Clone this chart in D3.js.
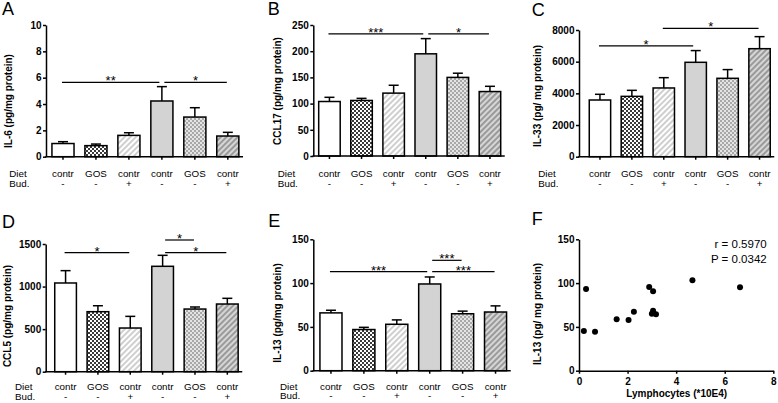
<!DOCTYPE html>
<html lang="en">
<head>
<meta charset="UTF-8">
<title>Cytokines per group</title>
<script src="https://d3js.org/d3.v7.min.js"></script>
<style>
  body { margin: 0; background: #fff; }
  svg { display: block; font-family: "Liberation Sans", Arial, sans-serif; }
  .axis path, .axis line { stroke: #000; stroke-width: 1.5; }
  .axis text { font-size: 10px; font-weight: bold; fill: #000; font-family: "Liberation Sans", Arial, sans-serif; }
  .cat { font-size: 9.8px; fill: #000; }
  .ytitle { font-size: 10px; font-weight: bold; }
  .letter { font-size: 18px; }
</style>
</head>
<body>
<div id="chart"></div>
<script>
// groups on the x axis
const diet = ["contr", "GOS", "contr", "contr", "GOS", "contr"];
const bud = ["-", "-", "+", "-", "-", "+"];

// mean and SEM per group
const il6Mean = [1.0, 0.84, 1.62, 4.23, 3.01, 1.57];
const il6Err = [0.14, 0.12, 0.2, 1.09, 0.71, 0.28];
const ccl17Mean = [104, 106, 120, 195, 150, 123];
const ccl17Err = [8, 4, 15, 29, 8, 10];
const il33Mean = [3580, 3810, 4340, 5960, 4950, 6820];
const il33Err = [360, 380, 650, 740, 550, 760];
const ccl5Mean = [1042, 705, 513, 1238, 736, 795];
const ccl5Err = [145, 70, 137, 129, 24, 67];
const il13Mean = [66, 47, 53, 99, 65, 67];
const il13Err = [3, 2.5, 5, 8, 3, 7];

// significance lines: [from group, to group, height, stars]
const il6Sig = [[0, 3, 5.65, "**"], [3, 5, 5.65, "*"]];
const ccl17Sig = [[0, 3, 233, "***"], [3, 5, 233, "*"]];
const il33Sig = [[0, 3, 7000, "*"], [2, 5, 8100, "*"]];
const ccl5Sig = [[0, 2, 1398, "*"], [3, 4, 1547, "*"], [3, 5, 1398, "*"]];
const il13Sig = [[0, 3, 113, "***"], [3, 4, 126, "***"], [3, 5, 113, "***"]];

// tick values
const il6Ticks = [0, 2, 4, 6, 8, 10];
const ccl17Ticks = [0, 50, 100, 150, 200, 250];
const il33Ticks = [0, 2000, 4000, 6000, 8000];
const ccl5Ticks = [0, 500, 1000, 1500];
const il13Ticks = [0, 50, 100, 150];

// panel F: lymphocytes vs IL-13
const lymph = [0.2, 0.29, 0.66, 1.55, 2.04, 2.26, 2.89, 3.05, 3.05, 3.0, 3.17, 4.67, 6.63];
const il13Lung = [45.3, 93.3, 44.5, 58.6, 57.9, 67.4, 95.5, 90.6, 68.5, 65.0, 64.3, 103.2, 95.2];
const fXTicks = [0, 2, 4, 6, 8];
const fYTicks = [0, 50, 100, 150];

const barFills = ["#ffffff", "url(#checkDark)", "url(#stripeLight)", "#d3d3d3", "url(#checkLight)", "url(#stripeDark)"];

const svg = d3.select("#chart").append("svg")
    .attr("width", 778)
    .attr("height", 403);

// patterns
const defs = svg.append("defs");
function checker(id, dark, light) {
    const p = defs.append("pattern").attr("id", id)
        .attr("patternUnits", "userSpaceOnUse").attr("width", 4).attr("height", 4);
    p.append("rect").attr("width", 4).attr("height", 4).attr("fill", light);
    p.append("rect").attr("width", 2).attr("height", 2).attr("fill", dark);
    p.append("rect").attr("x", 2).attr("y", 2).attr("width", 2).attr("height", 2).attr("fill", dark);
}
function stripes(id, dark, light) {
    const p = defs.append("pattern").attr("id", id)
        .attr("patternUnits", "userSpaceOnUse").attr("width", 4).attr("height", 4)
        .attr("patternTransform", "rotate(45)");
    p.append("rect").attr("width", 4).attr("height", 4).attr("fill", light);
    p.append("rect").attr("width", 2).attr("height", 4).attr("fill", dark);
}
checker("checkDark", "#3a3a3a", "#ffffff");
checker("checkLight", "#a8a8a8", "#e4e4e4");
stripes("stripeLight", "#cfcfcf", "#ffffff");
stripes("stripeDark", "#9a9a9a", "#d6d6d6");

const panels = [
    { letter: "A", lx: 2, ly: 15, title: "IL-6 (pg/mg protein)", tx: 11.5, ty: 101,
      xr: [46.5, 244.3], ax: 46, yr: [156.7, 25], max: 10, ticks: il6Ticks,
      rows: [20, 30], dietX: 9.3, mean: il6Mean, err: il6Err, sig: il6Sig },
    { letter: "B", lx: 267.7, ly: 15, title: "CCL17 (pg/mg protein)", tx: 281.3, ty: 91,
      xr: [313.4, 506], ax: 313.3, yr: [156, 25], max: 250, ticks: ccl17Ticks,
      rows: [20.5, 30.5], dietX: 277.7, mean: ccl17Mean, err: ccl17Err, sig: ccl17Sig },
    { letter: "C", lx: 531.7, ly: 16, title: "IL-33 (pg/ mg protein)", tx: 541.3, ty: 96,
      xr: [584, 775.5], ax: 579, yr: [156.7, 30], max: 8000, ticks: il33Ticks,
      rows: [20, 30], dietX: 538.3, mean: il33Mean, err: il33Err, sig: il33Sig },
    { letter: "D", lx: 2, ly: 228, title: "CCL5 (pg/mg protein)", tx: 11.3, ty: 316,
      xr: [49.4, 243.5], ax: 45.7, yr: [371.7, 244], max: 1500, ticks: ccl5Ticks,
      rows: [18.5, 28], dietX: 15, mean: ccl5Mean, err: ccl5Err, sig: ccl5Sig },
    { letter: "E", lx: 268.3, ly: 226.7, title: "IL-13 (pg/mg protein)", tx: 281.3, ty: 313,
      xr: [314.5, 512], ax: 313.3, yr: [370.7, 239.3], max: 150, ticks: il13Ticks,
      rows: [19, 28.5], dietX: 280, mean: il13Mean, err: il13Err, sig: il13Sig }
];

function yTitle(txt, x, y) {
    svg.append("text").attr("class", "ytitle")
        .attr("transform", `translate(${x},${y}) rotate(-90)`)
        .attr("text-anchor", "middle")
        .text(txt);
}

panels.forEach(p => {
    const x = d3.scaleBand().domain(d3.range(6)).range(p.xr)
        .paddingInner(0.33).paddingOuter(0.165);
    const y = d3.scaleLinear().domain([0, p.max]).range(p.yr);
    const y0 = y(0);
    const cx = i => x(i) + x.bandwidth() / 2;

    svg.append("text").attr("class", "letter").attr("x", p.lx).attr("y", p.ly).text(p.letter);
    yTitle(p.title, p.tx, p.ty);

    // bars
    const g = svg.append("g");
    p.mean.forEach((m, i) => {
        const top = y(m), etop = y(m + p.err[i]);
        g.append("line").attr("x1", cx(i)).attr("x2", cx(i)).attr("y1", top).attr("y2", etop)
            .attr("stroke", "#000").attr("stroke-width", 1.5);
        g.append("line").attr("x1", cx(i) - 5).attr("x2", cx(i) + 5).attr("y1", etop).attr("y2", etop)
            .attr("stroke", "#000").attr("stroke-width", 1.5);
        g.append("rect").attr("x", x(i)).attr("width", x.bandwidth())
            .attr("y", top).attr("height", y0 - top)
            .attr("fill", barFills[i]).attr("stroke", "#000").attr("stroke-width", 1.5);
    });

    // y axis
    svg.append("g").attr("class", "axis")
        .attr("transform", `translate(${p.ax},0)`)
        .call(d3.axisLeft(y).tickValues(p.ticks).tickSize(3).tickSizeOuter(0).tickPadding(1.5)
            .tickFormat(d3.format("d")));

    // x axis line + ticks
    const xa = svg.append("g").attr("class", "axis");
    xa.append("line").attr("x1", p.ax).attr("x2", p.xr[1] - 2).attr("y1", y0).attr("y2", y0)
        .attr("stroke-linecap", "square");
    d3.range(6).forEach(i => {
        xa.append("line").attr("x1", cx(i)).attr("x2", cx(i)).attr("y1", y0).attr("y2", y0 + 3);
        svg.append("text").attr("class", "cat").attr("text-anchor", "middle")
            .attr("x", cx(i)).attr("y", y0 + p.rows[0]).text(diet[i]);
        svg.append("text").attr("class", "cat").attr("text-anchor", "middle")
            .attr("x", cx(i)).attr("y", y0 + p.rows[1]).text(bud[i]);
    });
    svg.append("text").attr("class", "cat").attr("x", p.dietX).attr("y", y0 + p.rows[0]).text("Diet");
    svg.append("text").attr("class", "cat").attr("x", p.dietX).attr("y", y0 + p.rows[1]).text("Bud.");

    // significance
    p.sig.forEach(([a, b, v, s]) => {
        const ly = y(v);
        const x1 = cx(a) + (a === 3 ? 2.5 : -1), x2 = cx(b) - (b === 3 ? 2.5 : 1);
        svg.append("line").attr("x1", x1).attr("x2", x2).attr("y1", ly).attr("y2", ly)
            .attr("stroke", "#000").attr("stroke-width", 1.2);
        svg.append("text").attr("x", (x1 + x2) / 2).attr("y", ly + 3)
            .attr("text-anchor", "middle").attr("font-size", "13px").text(s);
    });
});

// panel F scatter
const fx = d3.scaleLinear().domain([0, 8]).range([579, 773.3]);
const fy = d3.scaleLinear().domain([0, 150]).range([370.7, 239.3]);
svg.append("text").attr("class", "letter").attr("x", 531.7).attr("y", 225).text("F");
yTitle("IL-13 (pg/ mg protein)", 541.3, 314);

svg.append("g").attr("class", "axis")
    .attr("transform", "translate(579,0)")
    .call(d3.axisLeft(fy).tickValues(fYTicks).tickSize(3).tickSizeOuter(0).tickPadding(1.5));
svg.append("g").attr("class", "axis")
    .attr("transform", "translate(0,370.7)")
    .call(d3.axisBottom(fx).tickValues(fXTicks).tickSize(3).tickSizeOuter(0).tickPadding(4.5));

svg.append("g").selectAll("circle")
    .data(lymph)
    .enter()
    .append("circle")
    .attr("cx", d => fx(d))
    .attr("cy", (d, i) => fy(il13Lung[i]))
    .attr("r", 3)
    .attr("fill", "#000");

svg.append("text").attr("x", 766.7).attr("y", 248).attr("text-anchor", "end")
    .attr("font-size", "11.5px").text("r = 0.5970");
svg.append("text").attr("x", 766.7).attr("y", 263).attr("text-anchor", "end")
    .attr("font-size", "11.5px").text("P = 0.0342");
svg.append("text").attr("x", 676.7).attr("y", 397).attr("text-anchor", "middle")
    .attr("font-size", "10px").attr("font-weight", "bold").text("Lymphocytes (*10E4)");
</script>
</body>
</html>
